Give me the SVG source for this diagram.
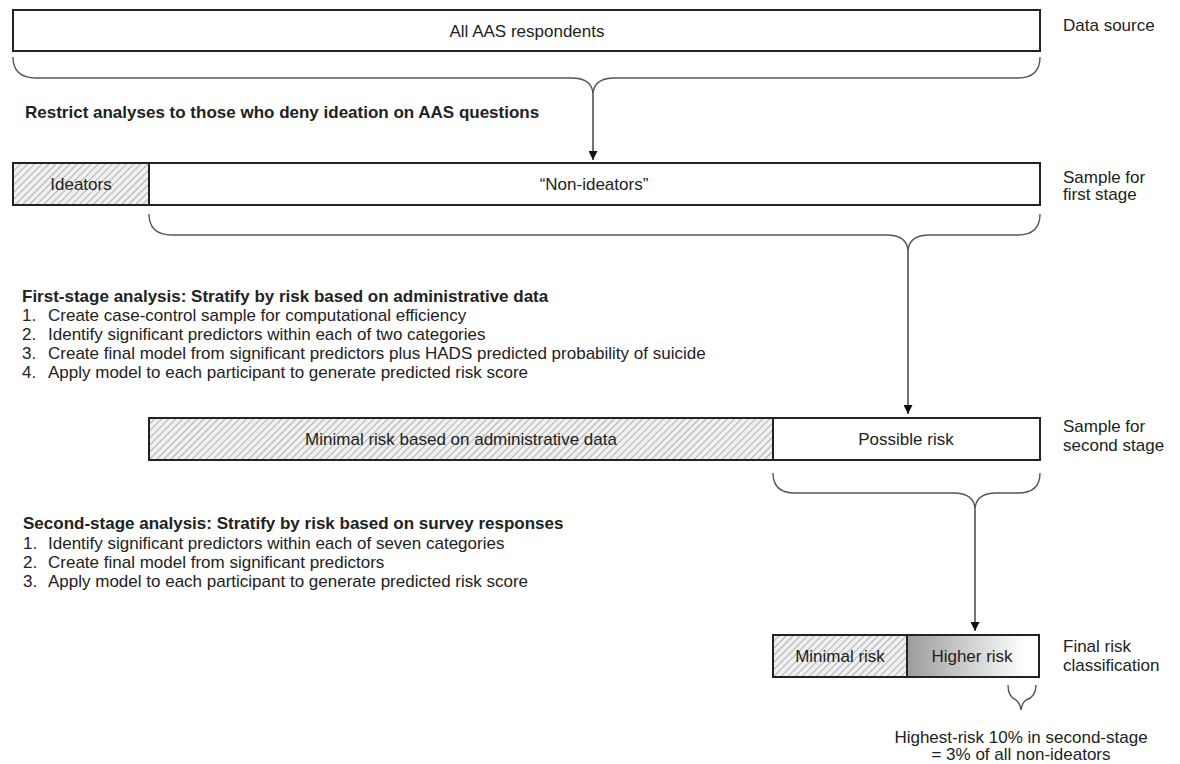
<svg xmlns="http://www.w3.org/2000/svg" width="1180" height="764" viewBox="0 0 1180 764">
<style>
text{font-family:"Liberation Sans",Arial,sans-serif;font-size:17px;fill:#222}
.b{font-weight:bold}
.m{text-anchor:middle}
.box{fill:#fff;stroke:#222;stroke-width:2}
.hat{fill:url(#hatch);stroke:#222;stroke-width:2}
.br{fill:none;stroke:#555;stroke-width:1.4}
.ar{fill:none;stroke:#444;stroke-width:1.5;marker-end:url(#ah)}
</style>
<defs>
<pattern id="hatch" patternUnits="userSpaceOnUse" width="5" height="5" patternTransform="rotate(45)">
<rect width="5" height="5" fill="#f0f0f0"/>
<line x1="0" y1="0" x2="0" y2="5" stroke="#959595" stroke-width="1.4"/>
</pattern>
<linearGradient id="grad" x1="0" y1="0" x2="1" y2="0">
<stop offset="0" stop-color="#9c9c9c"/>
<stop offset="0.9" stop-color="#ffffff"/>
</linearGradient>
<marker id="ah" viewBox="0 0 10 10" refX="10" refY="5" markerWidth="9" markerHeight="9" markerUnits="userSpaceOnUse" orient="auto">
<path d="M0,0 L10,5 L0,10 Z" fill="#111"/>
</marker>
</defs>

<g id="connectors">
<path class="br" d="M13,57 Q13,78 36,78 L571,78 Q593,78 593,95 Q593,78 615,78 L1018,78 Q1040,78 1040,57"/>
<path class="ar" d="M593,95 L593,160"/>
<path class="br" d="M149,214 Q149,235 172,235 L886,235 Q908,235 908,252 Q908,235 930,235 L1018,235 Q1040,235 1040,214"/>
<path class="ar" d="M908,252 L908,414"/>
<path class="br" d="M773,473 Q773,493 795,493 L953,493 Q975,493 975,510 Q975,493 997,493 L1018,493 Q1040,493 1040,473"/>
<path class="ar" d="M975,510 L975,631"/>
<path class="br" d="M1008,685 Q1008,697 1016,700 Q1020,703 1021,710 Q1022,703 1026,700 Q1036,697 1036,685"/>
</g>

<g id="n-all">
<rect class="box" x="13" y="10" width="1027" height="41"/>
<text class="m" x="527" y="37">All AAS respondents</text>
</g>
<text x="1063" y="31">Data source</text>

<text class="b" x="25" y="118">Restrict analyses to those who deny ideation on AAS questions</text>

<g id="n-ideators">
<rect class="hat" x="13" y="163" width="136" height="42"/>
<text class="m" x="81" y="190">Ideators</text>
</g>
<g id="n-nonideators">
<rect class="box" x="149" y="163" width="891" height="42"/>
<text class="m" x="594" y="190">“Non-ideators”</text>
</g>
<text x="1063" y="183">Sample for</text>
<text x="1063" y="200">first stage</text>

<g id="first-stage">
<text class="b" x="22" y="302">First-stage analysis: Stratify by risk based on administrative data</text>
<text x="22" y="321">1.</text><text x="48" y="321">Create case-control sample for computational efficiency</text>
<text x="22" y="340">2.</text><text x="48" y="340">Identify significant predictors within each of two categories</text>
<text x="22" y="359">3.</text><text x="48" y="359">Create final model from significant predictors plus HADS predicted probability of suicide</text>
<text x="22" y="378">4.</text><text x="48" y="378">Apply model to each participant to generate predicted risk score</text>
</g>

<g id="n-minimal-admin">
<rect class="hat" x="149" y="418" width="624" height="42"/>
<text class="m" x="461" y="445">Minimal risk based on administrative data</text>
</g>
<g id="n-possible">
<rect class="box" x="773" y="418" width="267" height="42"/>
<text class="m" x="906" y="445">Possible risk</text>
</g>
<text x="1063" y="432">Sample for</text>
<text x="1063" y="451">second stage</text>

<g id="second-stage">
<text class="b" x="23" y="529">Second-stage analysis: Stratify by risk based on survey responses</text>
<text x="23" y="549">1.</text><text x="48" y="549">Identify significant predictors within each of seven categories</text>
<text x="23" y="568">2.</text><text x="48" y="568">Create final model from significant predictors</text>
<text x="23" y="587">3.</text><text x="48" y="587">Apply model to each participant to generate predicted risk score</text>
</g>

<g id="n-minimal">
<rect class="hat" x="773" y="635" width="134" height="42"/>
<text class="m" x="840" y="662">Minimal risk</text>
</g>
<g id="n-higher">
<rect x="907" y="635" width="132" height="42" fill="url(#grad)" stroke="#222" stroke-width="2"/>
<text class="m" x="972" y="662">Higher risk</text>
</g>
<text x="1063" y="652">Final risk</text>
<text x="1063" y="671">classification</text>

<text class="m" x="1021" y="743">Highest-risk 10% in second-stage</text>
<text class="m" x="1021" y="760">= 3% of all non-ideators</text>
</svg>
